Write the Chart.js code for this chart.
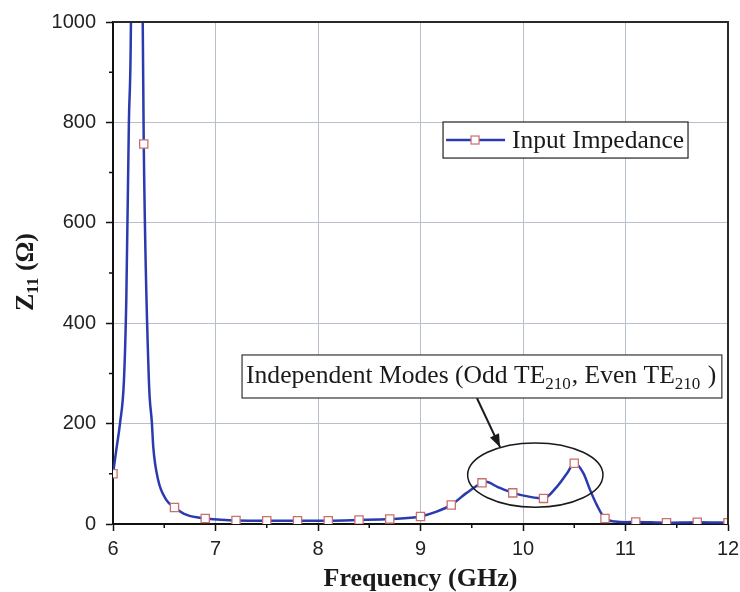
<!DOCTYPE html>
<html>
<head>
<meta charset="utf-8">
<script src="https://cdn.jsdelivr.net/npm/chart.js@4.4.1/dist/chart.umd.min.js"></script>
<style>
  html, body { margin: 0; padding: 0; background: #fff; }
  #wrap { width: 740px; height: 592px; }
</style>
</head>
<body>
<div id="wrap"><canvas id="c" width="740" height="592"></canvas></div>
<script>
// ---- data ----
const curveFreq = [6.00, 6.036, 6.068, 6.107, 6.13, 6.155, 6.175, 6.20, 6.23, 6.26, 6.29, 6.30,
  6.35, 6.38, 6.393, 6.44, 6.52, 6.60, 6.72, 6.90, 7.05, 7.20, 7.50, 7.80, 8.10, 8.40, 8.70,
  9.00, 9.15, 9.30, 9.45, 9.60, 9.64, 9.75, 9.90, 10.07, 10.20, 10.33, 10.43, 10.50, 10.59,
  10.654, 10.72, 10.80, 10.90, 11.00, 11.10, 11.40, 11.70, 12.00];
const curveZ = [100, 153, 200, 287, 450, 800, 1000, 2000, 3500, 2000, 1000, 757,
  287, 200, 153, 88, 48, 33, 18, 11, 8.5, 7, 6.6, 6.6, 6.6, 8, 10,
  15, 24, 38, 62, 82, 84, 74, 62, 54, 51, 74, 101, 121, 101,
  68, 38, 11, 5, 3.5, 4, 2.6, 3.5, 2.6];
const markerFreq = [6.0, 6.3, 6.6, 6.9, 7.2, 7.5, 7.8, 8.1, 8.4, 8.7, 9.0, 9.3, 9.6, 9.9,
  10.2, 10.5, 10.8, 11.1, 11.4, 11.7, 12.0];
const markerZ = [100, 757, 33, 11, 7, 6.6, 6.6, 6.6, 8, 10, 15, 38, 82, 62,
  51, 121, 11, 4, 2.6, 3.5, 2.6];
const xTicks = [6, 7, 8, 9, 10, 11, 12];
const yTicks = [0, 200, 400, 600, 800, 1000];
const seriesName = 'Input Impedance';

// ---- annotation geometry (data units) ----
const ANNOT = { x0: 7.259, x1: 11.94, y0: 336.7, y1: 251 };
const ELLIPSE = { cx: 10.12, cy: 97.6, rx: 0.66, ry: 64 };
const ARROW = { x0: 9.55, y0: 251, x1: 9.776, y1: 153 };
const LEGEND = { x0: 9.22, x1: 11.61, y0: 800.8, y1: 729 };

const LINE_COLOR = '#2b3aae';
const MARK_EDGE = '#c7706e';

const decorPlugin = {
  id: 'decor',
  afterDatasetsDraw(chart) {
    const ctx = chart.ctx;
    const xs = chart.scales.x, ys = chart.scales.y;
    const ca = chart.chartArea;
    const px = v => xs.getPixelForValue(v);
    const py = v => ys.getPixelForValue(v);
    ctx.save();

    // frame top & right
    ctx.strokeStyle = '#2a2a2a';
    ctx.lineWidth = 2;
    ctx.beginPath();
    ctx.moveTo(ca.left, ca.top);
    ctx.lineTo(ca.right, ca.top);
    ctx.lineTo(ca.right, ca.bottom);
    ctx.stroke();

    // minor ticks
    ctx.strokeStyle = '#111';
    ctx.lineWidth = 1.5;
    ctx.beginPath();
    for (let i = 0; i < xTicks.length - 1; i++) {
      const m = px((xTicks[i] + xTicks[i + 1]) / 2);
      ctx.moveTo(m, ca.bottom);
      ctx.lineTo(m, ca.bottom + 4);
    }
    for (let i = 0; i < yTicks.length - 1; i++) {
      const m = py((yTicks[i] + yTicks[i + 1]) / 2);
      ctx.moveTo(ca.left, m);
      ctx.lineTo(ca.left - 4, m);
    }
    ctx.stroke();

    // legend
    const lx0 = px(LEGEND.x0), lx1 = px(LEGEND.x1), ly0 = py(LEGEND.y0), ly1 = py(LEGEND.y1);
    ctx.fillStyle = '#fff';
    ctx.fillRect(lx0, ly0, lx1 - lx0, ly1 - ly0);
    ctx.strokeStyle = '#222';
    ctx.lineWidth = 1.2;
    ctx.strokeRect(lx0, ly0, lx1 - lx0, ly1 - ly0);
    const lmid = (ly0 + ly1) / 2;
    ctx.strokeStyle = LINE_COLOR;
    ctx.lineWidth = 2.5;
    ctx.beginPath();
    ctx.moveTo(lx0 + 3, lmid);
    ctx.lineTo(lx0 + 62, lmid);
    ctx.stroke();
    ctx.fillStyle = '#fff';
    ctx.strokeStyle = MARK_EDGE;
    ctx.lineWidth = 1.2;
    ctx.fillRect(lx0 + 28, lmid - 4, 8, 8);
    ctx.strokeRect(lx0 + 28, lmid - 4, 8, 8);
    ctx.fillStyle = '#1a1a1a';
    ctx.font = '25.5px "Liberation Serif"';
    ctx.textBaseline = 'alphabetic';
    ctx.textAlign = 'left';
    ctx.fillText(seriesName, lx0 + 69, lmid + 8);

    // ellipse
    ctx.strokeStyle = '#1a1a1a';
    ctx.lineWidth = 1.5;
    ctx.beginPath();
    const ecx = px(ELLIPSE.cx), ecy = py(ELLIPSE.cy);
    const erx = px(ELLIPSE.cx + ELLIPSE.rx) - ecx, ery = ecy - py(ELLIPSE.cy + ELLIPSE.ry);
    ctx.ellipse(ecx, ecy, erx, ery, 0, 0, Math.PI * 2);
    ctx.stroke();

    // arrow
    const ax0 = px(ARROW.x0), ay0 = py(ARROW.y0), ax1 = px(ARROW.x1), ay1 = py(ARROW.y1);
    ctx.lineWidth = 2;
    ctx.beginPath();
    ctx.moveTo(ax0, ay0);
    ctx.lineTo(ax1, ay1);
    ctx.stroke();
    const ang = Math.atan2(ay1 - ay0, ax1 - ax0);
    const hl = 13, hw = 5;
    ctx.fillStyle = '#1a1a1a';
    ctx.beginPath();
    ctx.moveTo(ax1, ay1);
    ctx.lineTo(ax1 - hl * Math.cos(ang) + hw * Math.sin(ang), ay1 - hl * Math.sin(ang) - hw * Math.cos(ang));
    ctx.lineTo(ax1 - hl * Math.cos(ang) - hw * Math.sin(ang), ay1 - hl * Math.sin(ang) + hw * Math.cos(ang));
    ctx.closePath();
    ctx.fill();

    // annotation box
    const bx0 = px(ANNOT.x0), bx1 = px(ANNOT.x1), by0 = py(ANNOT.y0), by1 = py(ANNOT.y1);
    ctx.fillStyle = '#fff';
    ctx.fillRect(bx0, by0, bx1 - bx0, by1 - by0);
    ctx.strokeStyle = '#333';
    ctx.lineWidth = 1.2;
    ctx.strokeRect(bx0, by0, bx1 - bx0, by1 - by0);
    const parts = [
      ['Independent Modes (Odd TE', false], ['210', true], [', Even TE', false], ['210', true], [' )', false]
    ];
    let tx = bx0 + 4;
    const base = by0 + 28;
    ctx.fillStyle = '#1a1a1a';
    for (const [t, sub] of parts) {
      ctx.font = sub ? '17px "Liberation Serif"' : '25.6px "Liberation Serif"';
      ctx.fillText(t, tx, sub ? base + 6 : base);
      tx += ctx.measureText(t).width + (sub ? 1 : 0);
    }

    // y axis title Z11 (Ω)
    ctx.translate(25, 272);
    ctx.rotate(-Math.PI / 2);
    const yparts = [['Z', false], ['11', true], [' (Ω)', false]];
    const fnt = sub => sub ? 'bold 17px "Liberation Serif"' : 'bold 26px "Liberation Serif"';
    let w = 0;
    for (const [t, sub] of yparts) {
      ctx.font = fnt(sub);
      w += ctx.measureText(t).width;
    }
    let yx = -w / 2;
    ctx.fillStyle = '#1a1a1a';
    for (const [t, sub] of yparts) {
      ctx.font = fnt(sub);
      ctx.fillText(t, yx, sub ? 13 : 8);
      yx += ctx.measureText(t).width;
    }
    ctx.restore();
  }
};

new Chart(document.getElementById('c'), {
  type: 'line',
  data: {
    datasets: [
      {
        label: seriesName,
        data: curveFreq.map((f, i) => ({ x: f, y: curveZ[i] })),
        borderColor: LINE_COLOR,
        borderWidth: 2.5,
        pointRadius: 0,
        cubicInterpolationMode: 'monotone',
        fill: false,
        order: 2
      },
      {
        label: seriesName + ' markers',
        data: markerFreq.map((f, i) => ({ x: f, y: markerZ[i] })),
        showLine: false,
        pointStyle: 'rect',
        pointRadius: 5.8,
        pointBackgroundColor: '#fff',
        pointBorderColor: MARK_EDGE,
        pointBorderWidth: 1.3,
        order: 1
      }
    ]
  },
  options: {
    responsive: false,
    animation: false,
    devicePixelRatio: 1,
    layout: { padding: { top: 22, right: 12, left: 0, bottom: 0 } },
    plugins: { legend: { display: false }, tooltip: { enabled: false } },
    scales: {
      x: {
        type: 'linear', min: 6, max: 12,
        afterFit: s => { s.height = 68; s.paddingRight = 0; s.paddingLeft = 0; },
        afterBuildTicks: s => { s.ticks = xTicks.map(v => ({ value: v })); },
        ticks: { font: { family: 'Liberation Sans', size: 20 }, color: '#222', padding: 6, maxRotation: 0,
          callback: v => String(v) },
        grid: { color: '#b7bfcc', lineWidth: 1, tickLength: 7, tickColor: '#111', tickWidth: 1.5 },
        border: { color: '#111', width: 2 },
        title: { display: true, text: 'Frequency (GHz)', color: '#1a1a1a',
          font: { family: 'Liberation Serif', size: 26, weight: 'bold' }, padding: { top: 0, bottom: -3 } }
      },
      y: {
        type: 'linear', min: 0, max: 1000,
        afterFit: s => { s.width = 113; s.paddingTop = 0; s.paddingBottom = 0; },
        afterBuildTicks: s => { s.ticks = yTicks.map(v => ({ value: v })); },
        ticks: { font: { family: 'Liberation Sans', size: 20 }, color: '#222', padding: 10,
          callback: v => String(v) },
        grid: { color: '#b7bfcc', lineWidth: 1, tickLength: 7, tickColor: '#111', tickWidth: 1.5 },
        border: { color: '#111', width: 2 }
      }
    }
  },
  plugins: [decorPlugin]
});
</script>
</body>
</html>
